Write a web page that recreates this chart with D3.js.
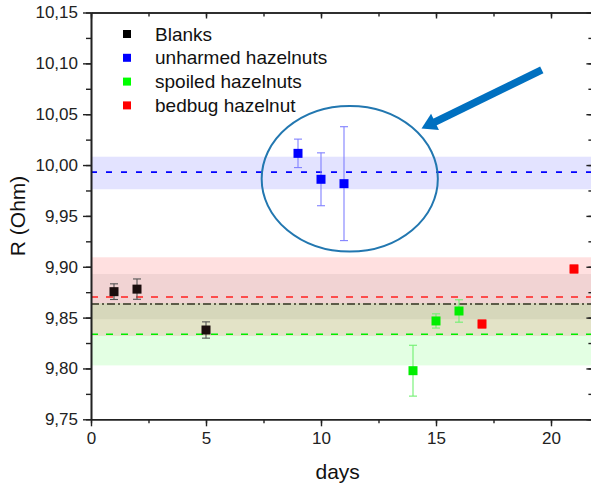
<!DOCTYPE html>
<html><head><meta charset="utf-8">
<script src="https://cdn.jsdelivr.net/npm/d3@7"></script>
<style>
html,body{margin:0;padding:0;background:#fff;}
svg{display:block;font-family:"Liberation Sans",Arial,sans-serif;}
</style></head>
<body>
<svg id="chart" width="591" height="484"></svg>
<script>
// ---- data ----
const seriesNames = ["Blanks", "unharmed hazelnuts", "spoiled hazelnuts", "bedbug hazelnut"];
const seriesColors = ["#1a0d0d", "#0000ff", "#00ee00", "#ff0000"];
const errColors = ["#555555", "#8080ff", "#70f070", "#ff7070"];
const blanksDays = [1, 2, 5];
const blanksR = [9.8755, 9.878, 9.8378];
const blanksErr = [0.0077, 0.010, 0.008];
const unharmedDays = [9, 10, 11];
const unharmedR = [10.0115, 9.986, 9.9817];
const unharmedErr = [0.014, 0.026, 0.056];
const spoiledDays = [14, 15, 16];
const spoiledR = [9.7978, 9.8467, 9.8565];
const spoiledErr = [0.025, 0.007, 0.011];
const bedbugDays = [17, 21];
const bedbugR = [9.8437, 9.8978];
const bedbugErr = [0.004, 0.004];
// mean lines and bands (low, high)
const meanValues = [9.8634, 9.993, 9.8336, 9.8703];
const bandLow = [9.8484, 9.9762, 9.803, 9.832];
const bandHigh = [9.8929, 10.0082, 9.8642, 9.9093];
const bandOpacity = [0.055, 0.11, 0.11, 0.12];
const bandColors = ["#000000", "#0000ff", "#00ff00", "#ff0000"];
const yTicks = [9.75, 9.80, 9.85, 9.90, 9.95, 10.00, 10.05, 10.10, 10.15];
const xTicks = [0, 5, 10, 15, 20];
// annotation (data units)
const ellipseCenter = [11.25, 9.9865];
const ellipseRadii = [3.83, 0.0716];
const arrowTail = [19.6, 10.0935];
const arrowTip = [14.37, 10.036];

const series = [
  {days: blanksDays, r: blanksR, e: blanksErr},
  {days: unharmedDays, r: unharmedR, e: unharmedErr},
  {days: spoiledDays, r: spoiledR, e: spoiledErr},
  {days: bedbugDays, r: bedbugR, e: bedbugErr}
];

const svg = d3.select("#chart");
const x = d3.scaleLinear().domain([0, 21.8]).range([91, 592.4]);
const y = d3.scaleLinear().domain([9.75, 10.15]).range([419.3, 12.5]);
const x0 = x.range()[0], x1 = x.range()[1], yb = y.range()[0], yt = y.range()[1];

// bands
const bandG = svg.append("g");
[1, 3, 0, 2].forEach(i => {
  bandG.append("rect")
    .attr("x", x0).attr("width", x1 - x0)
    .attr("y", y(bandHigh[i])).attr("height", y(bandLow[i]) - y(bandHigh[i]))
    .attr("fill", bandColors[i]).attr("fill-opacity", bandOpacity[i]);
});
// mean lines
const dashes = ["8,3,2,3", "6,9", "7,8", "7,8"];
const lineColors = ["#333322", "#0000ff", "#00ee00", "#ff2020"];
[0, 1, 2, 3].forEach(i => {
  svg.append("line")
    .attr("x1", x0).attr("x2", x1)
    .attr("y1", y(meanValues[i])).attr("y2", y(meanValues[i]))
    .attr("stroke", lineColors[i]).attr("stroke-width", 1.6)
    .attr("stroke-dasharray", dashes[i]);
});

// axes
const axColor = "#222";
const xMinor = d3.range(0, 21.8, 2.5);
const yMinor = d3.range(9.75, 10.151, 0.025);
function styleAxis(g) {
  g.selectAll("path").attr("stroke", axColor).attr("stroke-width", 1.6);
  g.selectAll("line").attr("stroke", axColor).attr("stroke-width", 1.4);
  g.selectAll("text").attr("fill", "#222").style("font-size", "17px");
}
// minor ticks
svg.append("g").attr("transform", `translate(0,${yb})`)
  .call(d3.axisBottom(x).tickValues(xMinor).tickSize(4).tickFormat("").tickSizeOuter(0)).call(styleAxis);
svg.append("g").attr("transform", `translate(0,${yt})`)
  .call(d3.axisBottom(x).tickValues(xMinor).tickSize(4).tickFormat("").tickSizeOuter(0)).call(styleAxis);
svg.append("g").attr("transform", `translate(${x0},0)`)
  .call(d3.axisLeft(y).tickValues(yMinor).tickSize(5).tickFormat("").tickSizeOuter(0)).call(styleAxis);
svg.append("g").attr("transform", `translate(${x1},0)`)
  .call(d3.axisRight(y).tickValues(yMinor).tickSize(-4).tickFormat("").tickSizeOuter(0)).call(styleAxis);
// major
const fmt = d => d3.format(".2f")(d).replace(".", ",");
const xa = svg.append("g").attr("transform", `translate(0,${yb})`)
  .call(d3.axisBottom(x).tickValues(xTicks).tickSize(7).tickPadding(6).tickSizeOuter(0)).call(styleAxis);
svg.append("g").attr("transform", `translate(0,${yt})`)
  .call(d3.axisBottom(x).tickValues(xTicks).tickSize(6).tickFormat("").tickSizeOuter(0)).call(styleAxis);
svg.append("g").attr("transform", `translate(${x0},0)`)
  .call(d3.axisLeft(y).tickValues(yTicks).tickSize(8).tickPadding(5).tickFormat(fmt).tickSizeOuter(0)).call(styleAxis);
svg.append("g").attr("transform", `translate(${x1},0)`)
  .call(d3.axisRight(y).tickValues(yTicks).tickSize(-6).tickFormat("").tickSizeOuter(0)).call(styleAxis);

// axis titles
svg.append("text").attr("x", (x0 + x1) / 2 - 0).attr("y", 479)
  .attr("text-anchor", "middle").style("font-size", "21px").attr("fill", "#111")
  .attr("transform", "translate(-4,0)")
  .text("days");
svg.append("text").attr("transform", `translate(25,${(yt + yb) / 2}) rotate(-90)`)
  .attr("text-anchor", "middle").style("font-size", "21px").attr("fill", "#111")
  .text("R (Ohm)");

// error bars + markers
const ms = 9, cap = 4;
series.forEach((s, i) => {
  const g = svg.append("g");
  s.days.forEach((d, j) => {
    const cx = x(d), top = y(s.r[j] + s.e[j]), bot = y(s.r[j] - s.e[j]);
    g.append("line").attr("x1", cx).attr("x2", cx).attr("y1", top).attr("y2", bot)
      .attr("stroke", errColors[i]).attr("stroke-width", 1.1);
    [top, bot].forEach(yy => g.append("line").attr("x1", cx - cap).attr("x2", cx + cap)
      .attr("y1", yy).attr("y2", yy).attr("stroke", errColors[i]).attr("stroke-width", 1.1));
    g.append("rect").attr("x", cx - ms / 2).attr("y", y(s.r[j]) - ms / 2)
      .attr("width", ms).attr("height", ms).attr("fill", seriesColors[i]);
  });
});

// legend
const legendColors = ["#000000", "#0000ff", "#00ff00", "#ff0000"];
const lg = svg.append("g");
seriesNames.forEach((n, i) => {
  const yy = 34 + i * 23.8;
  lg.append("rect").attr("x", 123).attr("y", yy - 4).attr("width", 8).attr("height", 8)
    .attr("fill", legendColors[i]);
  lg.append("text").attr("x", 155).attr("y", yy + 6.5).style("font-size", "19px")
    .attr("fill", "#111").text(n);
});

// ellipse annotation
const ecx = x(ellipseCenter[0]), ecy = y(ellipseCenter[1]);
const erx = x(ellipseCenter[0] + ellipseRadii[0]) - ecx;
const ery = ecy - y(ellipseCenter[1] + ellipseRadii[1]);
svg.append("ellipse").attr("cx", ecx).attr("cy", ecy).attr("rx", erx).attr("ry", ery)
  .attr("fill", "none").attr("stroke", "#2277b0").attr("stroke-width", 2);

// arrow annotation
const tx = x(arrowTail[0]), ty = y(arrowTail[1]);
const hx = x(arrowTip[0]), hy = y(arrowTip[1]);
const dx = hx - tx, dy = hy - ty, len = Math.hypot(dx, dy);
const ux = dx / len, uy = dy / len, px = -uy, py = ux;
const headLen = 15, headW = 9, shaftW = 7.5;
const bx = hx - ux * headLen, by = hy - uy * headLen;
svg.append("line").attr("x1", tx).attr("y1", ty).attr("x2", bx + ux * 2).attr("y2", by + uy * 2)
  .attr("stroke", "#0070c0").attr("stroke-width", shaftW);
svg.append("path")
  .attr("d", `M${hx},${hy}L${bx + px * headW},${by + py * headW}L${bx - px * headW},${by - py * headW}Z`)
  .attr("fill", "#0070c0");
</script>
</body></html>
